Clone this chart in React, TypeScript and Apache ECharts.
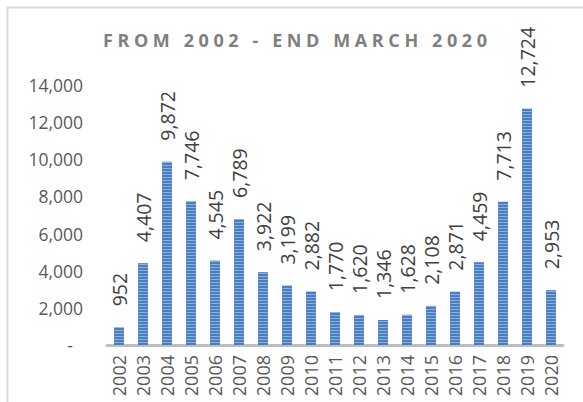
import React, { useEffect, useRef } from "react";
import * as echarts from "echarts";

const TITLE = "FROM 2002 - END MARCH 2020";
const years = ["2002", "2003", "2004", "2005", "2006", "2007", "2008", "2009", "2010", "2011", "2012", "2013", "2014", "2015", "2016", "2017", "2018", "2019", "2020"];
const values = [952, 4407, 9872, 7746, 4545, 6789, 3922, 3199, 2882, 1770, 1620, 1346, 1628, 2108, 2871, 4459, 7713, 12724, 2953];
const yMax = 14000;
const yInterval = 2000;

const TITLE_FONT = 'bold 18px "Open Sans"';
const TITLE_LEFT = 103;
const TITLE_WIDTH = 384;

export default function App() {
  const ref = useRef<HTMLDivElement>(null);
  useEffect(() => {
    if (!ref.current) return;
    const chart = echarts.init(ref.current, null, { renderer: "svg" });
    const fmt = (v: number) => v.toLocaleString("en-US");
    chart.setOption({
      animation: false,
      backgroundColor: "#ffffff",
      title: {
        text: TITLE,
        left: TITLE_LEFT,
        top: 31,
        padding: 0,
        textStyle: { fontFamily: "Open Sans", fontSize: 18, fontWeight: "bold", color: "#7f7f7f" },
      },
      graphic: [
        {
          type: "rect",
          silent: true,
          shape: { x: 7.5, y: 7.5, width: 620, height: 440 },
          style: { fill: "none", stroke: "#d9d9d9", lineWidth: 2 },
        },
      ],
      grid: { left: 107, right: 20, top: 85, bottom: 57, containLabel: false },
      xAxis: {
        type: "category",
        data: years,
        axisLine: { show: true, lineStyle: { color: "#bfbfbf", width: 3 } },
        axisTick: { show: false },
        axisLabel: {
          rotate: 90,
          margin: 10,
          interval: 0,
          color: "#595959",
          fontFamily: '"Liberation Sans Narrow", "Open Sans"',
          fontSize: 18,
        },
      },
      yAxis: {
        type: "value",
        min: 0,
        max: yMax,
        interval: yInterval,
        splitLine: { show: false },
        axisLine: { show: false },
        axisTick: { show: false },
        axisLabel: {
          margin: 24,
          color: "#595959",
          fontFamily: "Open Sans",
          fontSize: 17.5,
          formatter: (v: number) => (v === 0 ? "{d|-}" : fmt(v)),
          rich: { d: { padding: [0, 10, 0, 0], color: "#595959", fontFamily: "Open Sans", fontSize: 17.5 } },
        },
      },
      series: [
        {
          type: "bar",
          data: values,
          barWidth: 10,
          itemStyle: {
            color: "#4a7ec2",
            decal: {
              symbol: "rect",
              symbolSize: 1,
              dashArrayX: [1, 0],
              dashArrayY: [1, 2],
              rotation: 0,
              color: "rgba(255,255,255,0.38)",
            },
          },
          label: {
            show: true,
            position: "top",
            rotate: 90,
            align: "left",
            verticalAlign: "middle",
            distance: 21,
            color: "#404040",
            fontFamily: "Open Sans",
            fontSize: 19.5,
            formatter: (p: any) => fmt(p.value),
          },
        },
      ],
    });
    // letter-spaced title, as in the reference
    try {
      const c = document.createElement("canvas").getContext("2d");
      if (c) {
        c.font = TITLE_FONT;
        const w = c.measureText(TITLE).width;
        const sp = Math.max(0, (TITLE_WIDTH - w) / (TITLE.length - 1));
        ref.current.querySelectorAll("text").forEach((t) => {
          if (t.textContent === TITLE) (t as SVGTextElement).style.letterSpacing = sp + "px";
        });
      }
    } catch (e) {}
    return () => chart.dispose();
  }, []);
  return (
    <div style={{ position: "absolute", left: 0, top: 0 }}>
      <div ref={ref} style={{ width: 583, height: 402 }} />
    </div>
  );
}
